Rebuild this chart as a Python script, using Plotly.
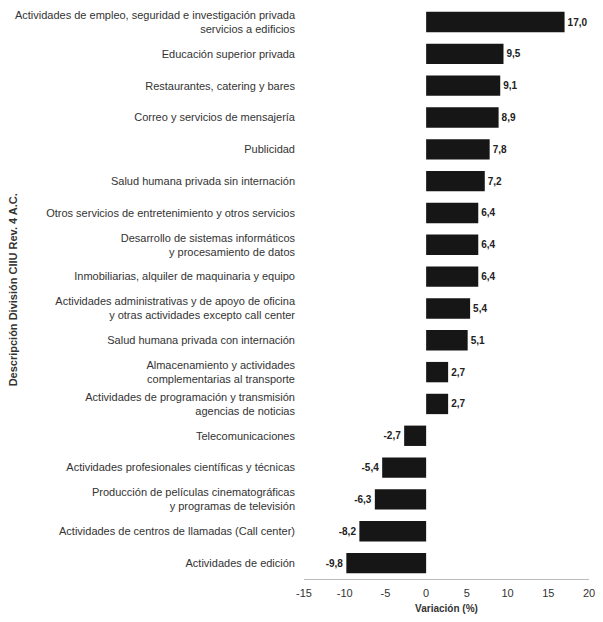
import plotly.graph_objects as go

categories = [
    "Actividades de empleo, seguridad e investigación privada<br>servicios a edificios",
    "Educación superior privada",
    "Restaurantes, catering y bares",
    "Correo y servicios de mensajería",
    "Publicidad",
    "Salud humana privada sin internación",
    "Otros servicios de entretenimiento y otros servicios",
    "Desarrollo de sistemas informáticos<br>y procesamiento de datos",
    "Inmobiliarias, alquiler de maquinaria y equipo",
    "Actividades administrativas y de apoyo de oficina<br>y otras actividades excepto call center",
    "Salud humana privada con internación",
    "Almacenamiento y actividades<br>complementarias al transporte",
    "Actividades de programación y transmisión<br>agencias de noticias",
    "Telecomunicaciones",
    "Actividades profesionales científicas y técnicas",
    "Producción de películas cinematográficas<br>y programas de televisión",
    "Actividades de centros de llamadas (Call center)",
    "Actividades de edición",
]
values = [17.0, 9.5, 9.1, 8.9, 7.8, 7.2, 6.4, 6.4, 6.4, 5.4, 5.1, 2.7, 2.7,
          -2.7, -5.4, -6.3, -8.2, -9.8]
x_ticks = [-15, -10, -5, 0, 5, 10, 15, 20]

labels = [f"{v:.1f}".replace(".", ",") for v in values]

fig = go.Figure(go.Bar(
    x=values, y=categories, orientation="h",
    marker=dict(color="#161616", line=dict(width=0)),
    text=labels, textposition="outside", cliponaxis=False,
    textfont=dict(family="Liberation Sans", size=10, color="#222222", weight="bold"),
))

fig.update_layout(
    width=595, height=606,
    margin=dict(l=296, r=14, t=0, b=35),
    paper_bgcolor="white", plot_bgcolor="white",
    bargap=0.36,
    showlegend=False,
    font=dict(family="Liberation Sans", size=11, color="#333333"),
    annotations=[dict(
        text="<b>Descripción División CIIU Rev. 4 A.C.</b>",
        xref="paper", yref="paper", x=-1.02, y=0.506,
        textangle=-90, showarrow=False, xanchor="center", yanchor="middle",
        font=dict(family="Liberation Sans", size=11, color="#333333"),
    )],
)
fig.update_xaxes(
    range=[-15, 20], tickvals=x_ticks, ticktext=[str(t) for t in x_ticks],
    showgrid=False, zeroline=False, showline=True, linecolor="#bbbbbb",
    ticks="", ticklabelstandoff=4, ticklabeloverflow="allow",
    tickfont=dict(size=11, color="#333333"),
    title=dict(text="<b>Variación (%)</b>", font=dict(size=10, color="#333333"), standoff=6),
)
fig.update_yaxes(
    categoryorder="array", categoryarray=categories,
    range=[len(categories) - 0.5, -0.44],
    showgrid=False, zeroline=False, showline=False, ticks="",
    ticklabelstandoff=8,
    tickfont=dict(size=11, color="#333333"),
)

fig.write_html("out.html")
